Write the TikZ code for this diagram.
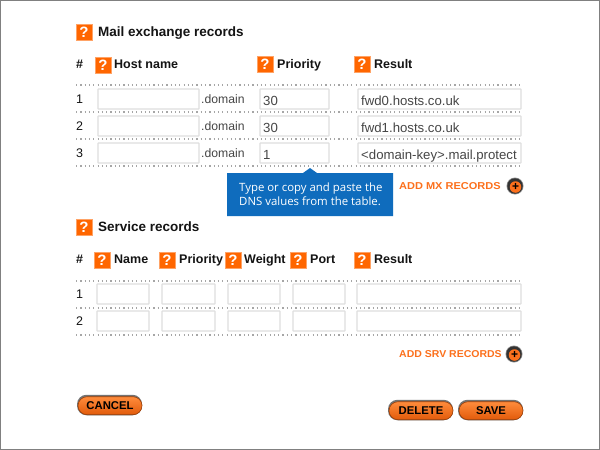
\documentclass[tikz,border=0pt]{standalone}
\usepackage{fontspec}
\usepackage{graphicx}
\setmainfont{Liberation Sans}
\newfontfamily\calloutfont{Open Sans}
\definecolor{qorange}{RGB}{255,102,0}
\definecolor{btnorange}{RGB}{252,112,28}
\definecolor{btntop}{RGB}{255,140,60}
\definecolor{btnbot}{RGB}{225,90,10}
\definecolor{inputline}{RGB}{222,222,222}
\definecolor{calloutblue}{RGB}{15,108,189}
\definecolor{txt}{RGB}{20,20,20}
\definecolor{val}{RGB}{70,70,70}
\tikzset{
  fixedbase/.style={text height=9pt,text depth=3pt},
  qicon/.style={draw=qorange!60,fill=qorange,line width=0.5pt,minimum width=16pt,minimum height=16pt,inner sep=0pt,text=white,font=\fontsize{15}{15}\selectfont\bfseries},
  titletxt/.style={fixedbase,yshift=-1.5pt,anchor=west,inner sep=0pt,text=txt,font=\fontsize{13.5}{15}\selectfont\bfseries},
  headtxt/.style={fixedbase,yshift=-1.5pt,anchor=west,inner sep=0pt,text=txt,font=\fontsize{12.5}{15}\selectfont\bfseries},
  rownum/.style={fixedbase,yshift=-1.2pt,anchor=west,inner sep=0pt,text=txt,font=\fontsize{12.5}{15}\selectfont},
  domaintxt/.style={fixedbase,yshift=-2pt,anchor=west,inner sep=0pt,text=val,font=\fontsize{12.2}{15}\selectfont},
  inbox/.style={draw=inputline,fill=white,line width=1.2pt,rounded corners=0.5pt},
  inval/.style={fixedbase,yshift=-2pt,anchor=west,inner sep=0pt,text=val,font=\fontsize{13.2}{15}\selectfont},
  invalsmall/.style={inval,font=\fontsize{13.2}{15}\selectfont},
  dotline/.style={draw=gray!70,line width=1.2pt,dash pattern=on 1.2pt off 3.1pt},
  addlabel/.style={anchor=west,inner sep=0pt,text=btnorange,font=\fontsize{10}{12}\selectfont\bfseries},
  addhalo/.style={circle,fill=black!45,minimum size=17pt,inner sep=0pt},
  addring/.style={circle,fill=black!80,minimum size=15.5pt,inner sep=0pt},
  addplus/.style={circle,fill=btnorange,minimum size=11.5pt,inner sep=0pt,text=black,font=\fontsize{12}{12}\selectfont\bfseries},
  btnback/.style={rounded corners=9.5pt,fill=black!55,minimum height=20.5pt,minimum width=65pt,inner sep=0pt},
  btn/.style={rounded corners=9pt,draw=btnbot!70!black,line width=0.6pt,top color=btntop,bottom color=btnbot,minimum height=18pt,minimum width=64pt,inner sep=0pt,text=black,font=\fontsize{11.3}{12}\selectfont\bfseries},
}
\begin{document}
\begin{tikzpicture}[x=1pt,y=-1pt]
\useasboundingbox (0,0) rectangle (600,450);
\fill[white] (0,0) rectangle (600,450);
\draw[gray,line width=1.4pt] (0.7,0.7) rectangle (599.3,449.3);

% Mail exchange
\node[qicon] (q1) at (84,32) {?};
\node[titletxt] (t1) at (98,32) {Mail exchange records};
\node[headtxt] (h0) at (76,64) {\#};
\node[qicon] (q2) at (103,65) {?};
\node[headtxt] (h1) at (114,64) {Host name};
\node[qicon] (q3) at (265,64.5) {?};
\node[headtxt] (h2) at (277,64) {Priority};
\node[qicon] (q4) at (362,64.5) {?};
\node[headtxt] (h3) at (374,64) {Result};

\foreach \y in {85,112,139,166} \draw[dotline] (76,\y) -- (522,\y);
\foreach \y/\n in {99/1,126/2,153/3} {
  \node[rownum] at (76,\y) {\n};
  \draw[inbox] (98,\y-10) rectangle (199,\y+10);
  \node[domaintxt] at (201,\y-1) {.domain};
  \draw[inbox] (260,\y-10) rectangle (329,\y+10);
  \draw[inbox] (358,\y-10) rectangle (521,\y+10);
}
\node[inval] at (263,100) {30};
\node[inval] at (263,127) {30};
\node[inval] at (263,154) {1};
\node[inval] at (361,100) {fwd0.hosts.co.uk};
\node[inval] at (361,127) {fwd1.hosts.co.uk};
\begin{scope}
\clip (359,140) rectangle (520,165);
\node[invalsmall] at (361,154) {<domain-key>.mail.protect};
\end{scope}

% Callout
\fill[calloutblue] (227,173) -- (303,173) -- (310,168) -- (317,173) -- (393,173) -- (393,216) -- (227,216) -- cycle;
\node[anchor=west,inner sep=0pt,text=white,align=left,font=\calloutfont\fontsize{11.4}{14.2}\selectfont] (c) at (239,194.5) {Type or copy and paste the\\DNS values from the table.};

\node[addlabel] (a1) at (399,186) {\scalebox{1.1}[1]{ADD MX RECORDS}};
\node[addhalo] (p1h) at (515,186) {};
\node[addring] (p1r) at (515,186) {};
\node[addplus] (p1) at (515.5,187) {+};

% Service
\node[qicon] (q5) at (84,227) {?};
\node[titletxt] (t2) at (98,227) {Service records};
\node[headtxt] (s0) at (76,259) {\#};
\node[qicon] (q6) at (102,260) {?};
\node[headtxt] (s1) at (114,259) {Name};
\node[qicon] (q7) at (167,260) {?};
\node[headtxt] (s2) at (179,259) {Priority};
\node[qicon] (q8) at (233,260) {?};
\node[headtxt] (s3) at (244,259) {Weight};
\node[qicon] (q9) at (298,260) {?};
\node[headtxt] (s4) at (310,259) {Port};
\node[qicon] (q10) at (362,260) {?};
\node[headtxt] (s5) at (374,259) {Result};

\foreach \y in {281,308,335} \draw[dotline] (76,\y) -- (522,\y);
\foreach \y/\n in {294/1,321/2} {
  \node[rownum] at (76,\y) {\n};
  \draw[inbox] (97,\y-10) rectangle (149,\y+10);
  \draw[inbox] (162,\y-10) rectangle (215,\y+10);
  \draw[inbox] (228,\y-10) rectangle (280,\y+10);
  \draw[inbox] (293,\y-10) rectangle (345,\y+10);
  \draw[inbox] (357,\y-10) rectangle (521,\y+10);
}
\node[addlabel] (a2) at (399,354) {\scalebox{1.05}[1]{ADD SRV RECORDS}};
\node[addhalo] (p2h) at (514,354) {};
\node[addring] (p2r) at (514,354) {};
\node[addplus] (p2) at (514.5,355) {+};

% Buttons
\node[btnback] (b1b) at (109.5,405) {};
\node[btn] (b1) at (110,405.7) {CANCEL};
\node[btnback] (b2b) at (420.5,410) {};
\node[btn] (b2) at (421,410.7) {DELETE};
\node[btnback] (b3b) at (490.5,410) {};
\node[btn] (b3) at (491,410.7) {SAVE};
\end{tikzpicture}
\end{document}
